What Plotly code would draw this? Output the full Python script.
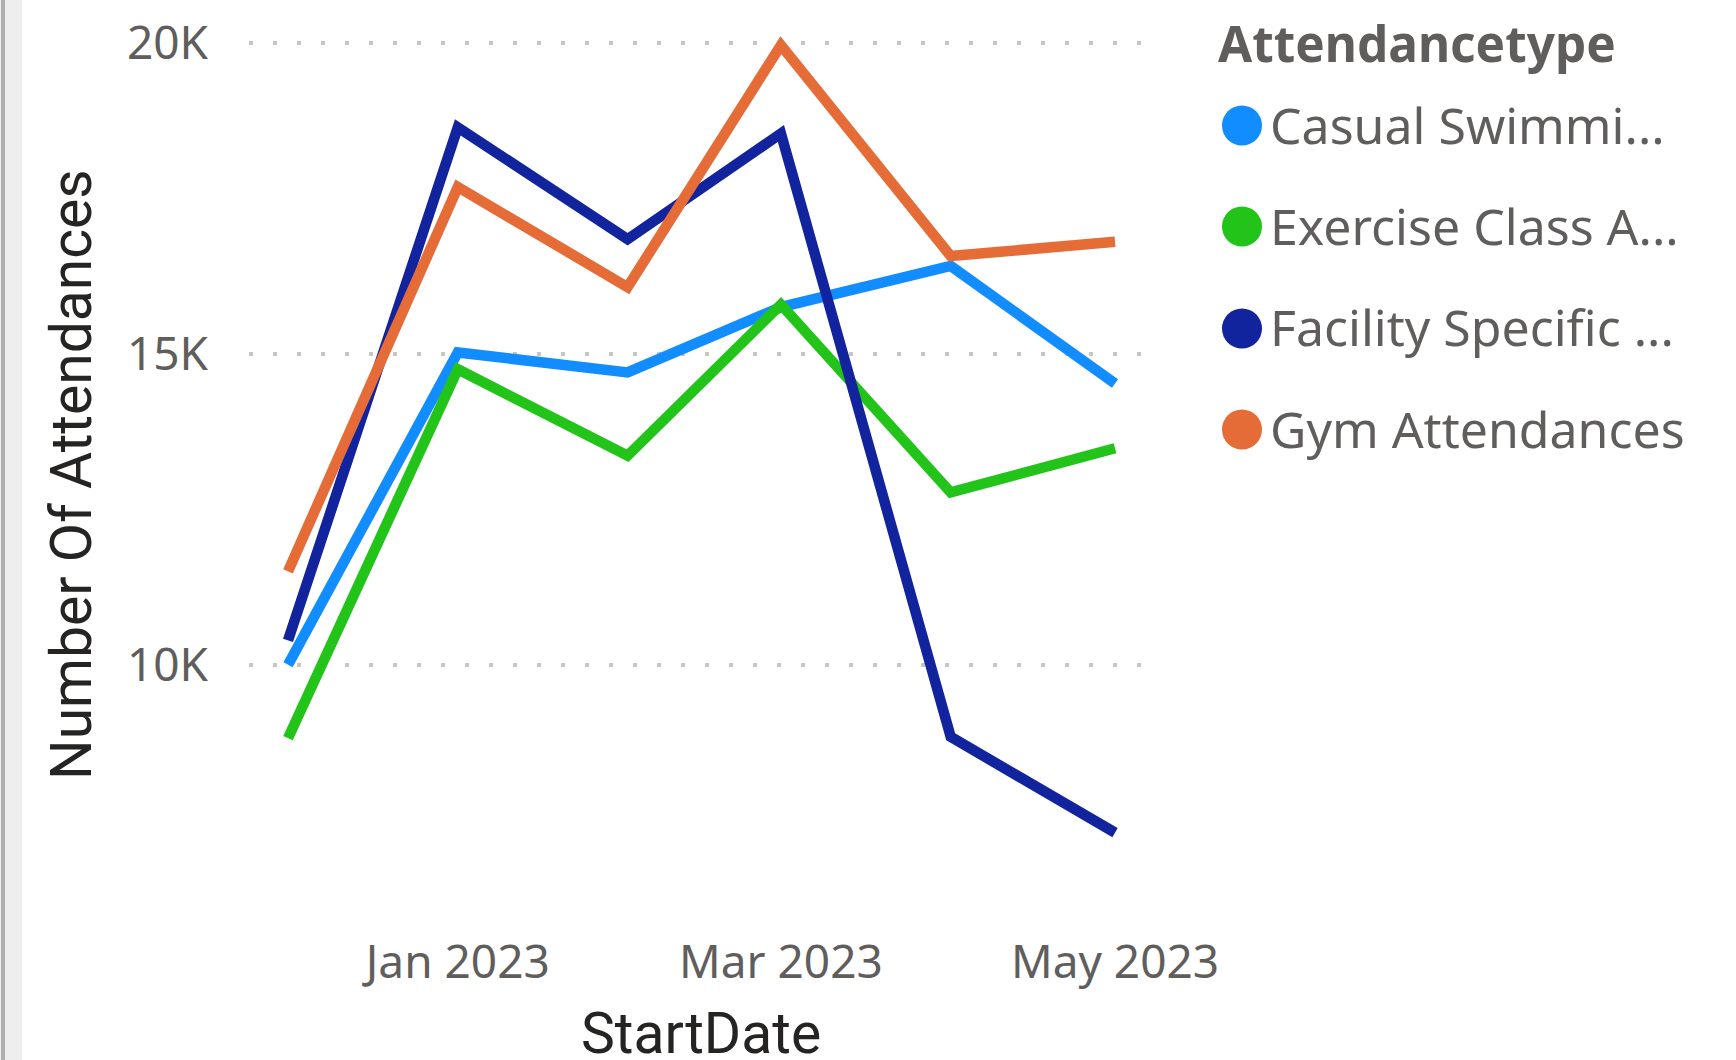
import plotly.graph_objects as go

# ---- data ----
dates = ["2022-12-01", "2023-01-01", "2023-02-01", "2023-03-01", "2023-04-01", "2023-05-01"]
series_names = ["Casual Swimmi...", "Exercise Class A...", "Facility Specific ...", "Gym Attendances"]
casual = [10000, 15020, 14700, 15750, 16410, 14520]
exercise = [8820, 14750, 13360, 15790, 12770, 13480]
facility = [10390, 18640, 16840, 18540, 8840, 7300]
gym = [11500, 17680, 16070, 19960, 16570, 16800]
series_values = [casual, exercise, facility, gym]
colors = ["#118DFF", "#22C41A", "#12239E", "#E66C37"]

y_tickvals = [10000, 15000, 20000]
y_ticktext = ["10K", "15K", "20K"]
x_tickvals = ["2023-01-01", "2023-03-01", "2023-05-01"]
x_ticktext = ["Jan 2023", "Mar 2023", "May 2023"]
legend_title = "Attendancetype"
x_title = "StartDate"
y_title = "Number Of Attendances"

# ---- layout geometry (pixels) ----
W, H = 1736, 1060
L, R, T, B = 249, 1144, 20, 925


def px(x):
    return (x - L) / (R - L)


def py(y):
    return (B - y) / (B - T)


TEXT_FONT = "Segoe UI, Noto Sans, Open Sans, sans-serif"
TITLE_FONT = "Roboto, DejaVu Sans, sans-serif"
GRAY = "#605E5C"
DARK = "#252423"

fig = go.Figure()
for name, vals, col in zip(series_names, series_values, colors):
    fig.add_trace(go.Scatter(
        x=dates, y=vals, name=name, mode="lines",
        line=dict(color=col, width=10.5),
        showlegend=False,
    ))

shapes = [
    dict(type="rect", xref="paper", yref="paper",
         x0=px(0), x1=px(22), y0=py(H), y1=py(0),
         fillcolor="#EEEEEE", line=dict(width=0), layer="below"),
    dict(type="rect", xref="paper", yref="paper",
         x0=px(1), x1=px(5), y0=py(H), y1=py(0),
         fillcolor="#B0B0B0", line=dict(width=0), layer="below"),
]
annotations = []

# custom legend
annotations.append(dict(
    xref="paper", yref="paper", x=px(1216), y=py(43), xanchor="left", yanchor="middle",
    text="<b>" + legend_title + "</b>", showarrow=False,
    font=dict(family=TEXT_FONT, size=49.5, color=GRAY),
))
legend_y = [126, 227, 329, 430]
for name, col, yy in zip(series_names, colors, legend_y):
    shapes.append(dict(
        type="circle", xref="paper", yref="paper",
        xsizemode="pixel", ysizemode="pixel",
        xanchor=px(1242), yanchor=py(yy - 0.5),
        x0=-20, x1=20, y0=-20, y1=20,
        fillcolor=col, line=dict(width=0),
    ))
    annotations.append(dict(
        xref="paper", yref="paper", x=px(1268), y=py(yy - 1.5), xanchor="left", yanchor="middle",
        text=name, showarrow=False,
        font=dict(family=TEXT_FONT, size=50, color=GRAY),
    ))

# axis titles
annotations.append(dict(
    xref="paper", yref="paper", x=px(701), y=py(1033), xanchor="center", yanchor="middle",
    text=x_title, showarrow=False,
    font=dict(family=TITLE_FONT, size=57, color=DARK),
))
annotations.append(dict(
    xref="paper", yref="paper", x=px(72), y=py(475), xanchor="center", yanchor="middle",
    text=y_title, textangle=-90, showarrow=False,
    font=dict(family=TITLE_FONT, size=57, color=DARK),
))

fig.update_layout(
    width=W, height=H,
    margin=dict(l=L, r=W - R, t=T, b=H - B, autoexpand=False),
    paper_bgcolor="white", plot_bgcolor="white",
    showlegend=False,
    shapes=shapes,
    annotations=annotations,
    xaxis=dict(
        type="date",
        range=["2022-11-23 21:00", "2023-05-06 07:00"],
        tickvals=x_tickvals, ticktext=x_ticktext,
        showgrid=False, zeroline=False, showline=False, ticks="",
        tickfont=dict(family=TEXT_FONT, size=46, color=GRAY),
        ticklabelstandoff=6,
        automargin=False,
    ),
    yaxis=dict(
        range=[5815, 20365],
        tickvals=y_tickvals, ticktext=y_ticktext,
        showgrid=True, gridcolor="#C8C6C4", gridwidth=4, griddash="4px,20px",
        zeroline=False, showline=False, ticks="",
        tickfont=dict(family=TEXT_FONT, size=46, color=GRAY),
        ticklabelstandoff=40,
        automargin=False,
    ),
)

fig.write_html(
    "out.html",
    config={"displayModeBar": False},
    post_script="document.body.style.margin='0px';document.body.style.overflow='hidden';",
)
